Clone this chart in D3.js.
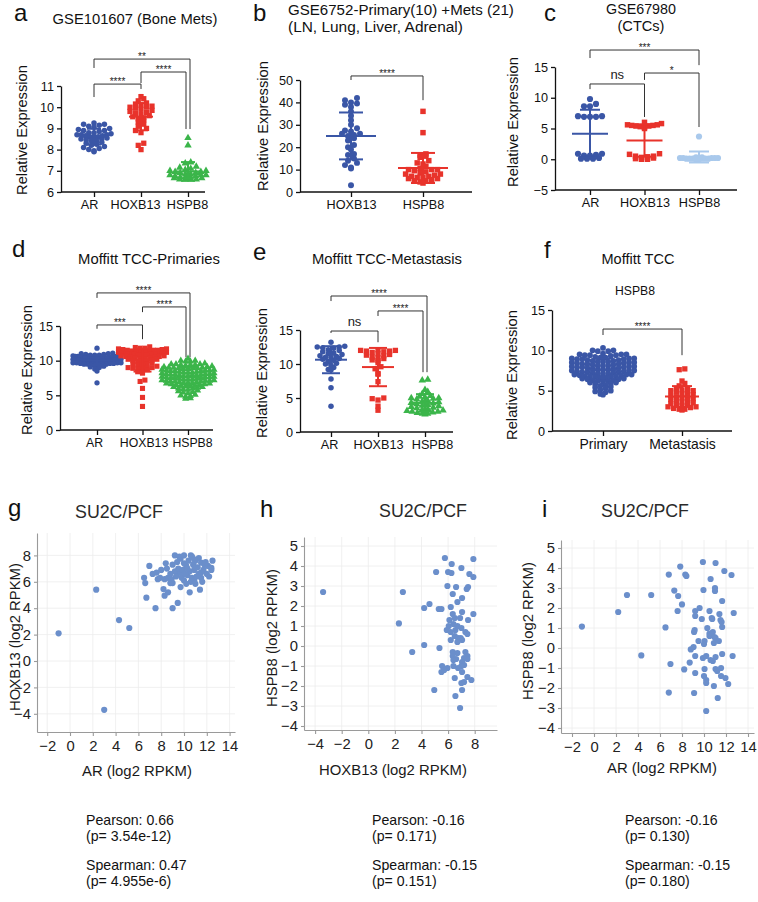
<!DOCTYPE html>
<html><head><meta charset="utf-8">
<script src="https://cdn.jsdelivr.net/npm/d3@7"></script>
<style>
body{margin:0;background:#fff}
svg{display:block}
text{font-family:"Liberation Sans",Arial,Helvetica,sans-serif}
</style>
</head><body>
<svg id="c" width="758" height="902"></svg>
<script>
// ---------------- DATA ----------------
const catsABC = ["AR", "HOXB13", "HSPB8"];
const catsB = ["HOXB13", "HSPB8"];
const catsF = ["Primary", "Metastasis"];

// a: GSE101607
const aAR = [9.25, 9.2, 9.2, 9.15, 9.1, 9.05, 9.0, 8.95, 8.9, 8.9, 8.85, 8.8, 8.8, 8.75, 8.7, 8.7, 8.7, 8.65, 8.65, 8.6, 8.6, 8.6, 8.55, 8.5, 8.5, 8.45, 8.4, 8.4, 8.35, 8.3, 8.25, 8.2, 8.15, 8.1, 8.05, 8.0, 7.95, 7.9];
const aHOXB13 = [10.5, 10.4, 10.3, 10.2, 10.15, 10.1, 10.05, 10.0, 10.0, 9.95, 9.9, 9.85, 9.8, 9.75, 9.7, 9.65, 9.6, 9.55, 9.5, 9.45, 9.4, 9.3, 9.2, 9.1, 9.0, 8.9, 8.8, 8.3, 8.2, 8.0];
const aHSPB8 = [8.55, 8.2, 7.4, 7.35, 7.2, 7.15, 7.1, 7.05, 7.0, 7.0, 6.95, 6.95, 6.9, 6.9, 6.85, 6.85, 6.8, 6.8, 6.8, 6.75, 6.75, 6.7, 6.7, 6.7, 6.65, 6.65, 6.6, 6.6, 6.6, 6.6];

// b: GSE6752
const bHOXB13 = [42, 41, 40, 39.5, 39, 38, 36, 34, 32, 30, 28.5, 27.5, 27, 26, 26, 25.5, 25, 24, 23, 21, 20, 19, 17, 16.5, 15, 14, 13, 12, 11, 10.5, 3];
const bHSPB8 = [36, 26.5, 17, 16.5, 16, 15.5, 14, 13, 12.5, 11.5, 10.5, 10, 10, 10, 9.5, 9, 8.5, 8, 8, 7.5, 7, 7, 6.5, 6.5, 6, 6, 5.5, 5, 5, 4.5, 4];

// c: GSE67980 (CTCs)
const cAR = [9.8, 9.0, 8.6, 8.6, 7.0, 7.0, 6.9, 6.9, 6.9, 0.9, 0.9, 0.7, 0.6, 0.6, 0.2, 0.1, 0.1, 0.1];
const cHOXB13 = [6.0, 5.8, 5.6, 5.6, 5.5, 5.5, 5.4, 5.4, 5.3, 5.2, 5.0, 0.9, 0.8, 0.5, 0.5, 0.4, 0.3, 0.2, 0.1, 0.0, 0.0];
const cHSPB8 = [3.7, 0.3, 0.3, 0.2, 0.2, 0.2, 0.2, 0.2, 0.1, 0.1, 0.1, 0.1, 0.1, 0.1, 0.0, 0.0];

// d: Moffitt TCC primaries
const dAR = [11.8, 11.1, 11.0, 11.0, 10.9, 10.9, 10.8, 10.8, 10.8, 10.7, 10.7, 10.7, 10.6, 10.6, 10.6, 10.6, 10.5, 10.5, 10.5, 10.5, 10.4, 10.4, 10.4, 10.4, 10.4, 10.3, 10.3, 10.3, 10.3, 10.3, 10.2, 10.2, 10.2, 10.2, 10.2, 10.2, 10.1, 10.1, 10.1, 10.1, 10.1, 10.0, 10.0, 10.0, 10.0, 10.0, 10.0, 9.9, 9.9, 9.9, 9.9, 9.9, 9.8, 9.8, 9.8, 9.8, 9.7, 9.7, 9.7, 9.7, 9.6, 9.6, 9.6, 9.5, 9.5, 9.5, 9.4, 9.4, 9.3, 9.3, 9.2, 9.1, 9.0, 8.8, 8.5, 6.8];
const dHOXB13 = [12.0, 11.9, 11.8, 11.8, 11.7, 11.7, 11.6, 11.6, 11.5, 11.5, 11.5, 11.4, 11.4, 11.3, 11.3, 11.3, 11.2, 11.2, 11.1, 11.1, 11.1, 11.0, 11.0, 11.0, 10.9, 10.9, 10.8, 10.8, 10.8, 10.7, 10.7, 10.6, 10.6, 10.5, 10.5, 10.4, 10.4, 10.3, 10.3, 10.2, 10.2, 10.1, 10.0, 10.0, 9.9, 9.8, 9.7, 9.6, 9.5, 9.4, 9.3, 9.2, 9.0, 9.0, 8.9, 8.9, 8.8, 8.8, 8.7, 8.4, 8.3, 8.2, 7.2, 7.0, 6.0, 4.7, 3.4];
const dHSPB8 = [10.3, 10.0, 10.0, 9.9, 9.9, 9.6, 9.5, 9.5, 9.5, 9.4, 9.4, 9.4, 9.3, 9.2, 9.1, 9.1, 9.0, 9.0, 9.0, 8.9, 8.9, 8.9, 8.8, 8.8, 8.7, 8.7, 8.6, 8.6, 8.6, 8.5, 8.5, 8.5, 8.4, 8.4, 8.3, 8.3, 8.3, 8.2, 8.2, 8.1, 8.1, 8.1, 8.0, 8.0, 8.0, 7.9, 7.9, 7.9, 7.8, 7.8, 7.7, 7.7, 7.6, 7.6, 7.6, 7.5, 7.5, 7.5, 7.4, 7.4, 7.3, 7.3, 7.3, 7.2, 7.2, 7.1, 7.1, 7.1, 7.0, 7.0, 7.0, 6.9, 6.9, 6.8, 6.8, 6.8, 6.7, 6.7, 6.6, 6.6, 6.5, 6.5, 6.4, 6.4, 6.3, 6.3, 6.2, 6.2, 6.1, 6.0, 6.0, 5.9, 5.8, 5.7, 5.6, 5.5, 5.4, 5.3, 5.1, 5.0, 4.9, 4.8, 4.6, 4.5];

// e: Moffitt TCC metastasis
const eAR = [13.2, 12.6, 12.5, 12.5, 12.4, 12.3, 12.1, 12.0, 11.8, 11.6, 11.5, 11.4, 11.2, 11.1, 11.0, 11.0, 10.8, 10.7, 10.5, 10.3, 10.1, 10.0, 9.8, 9.5, 9.2, 9.1, 7.8, 6.5, 3.8];
const eHOXB13 = [12.1, 12.0, 12.0, 11.9, 11.9, 11.8, 11.7, 11.5, 11.4, 11.3, 11.2, 11.0, 10.9, 10.8, 10.6, 10.5, 10.2, 9.6, 9.3, 8.6, 8.5, 7.4, 5.0, 4.9, 4.7, 3.8, 3.2];
const eHSPB8 = [7.7, 7.6, 6.2, 5.9, 5.6, 5.3, 5.2, 5.1, 5.0, 5.0, 4.9, 4.8, 4.6, 4.5, 4.4, 4.3, 4.2, 4.1, 4.0, 3.9, 3.8, 3.7, 3.6, 3.5, 3.4, 3.3, 3.2, 3.1, 3.0, 3.0, 2.9, 2.8, 2.7, 2.7, 2.6];

// f: Moffitt TCC HSPB8 (primary vs metastasis)
const fPrimary = dHSPB8;
const fMetastasis = eHSPB8;

// tick labels
const ticksA = [6, 7, 8, 9, 10, 11];
const ticksB = [0, 10, 20, 30, 40, 50];
const ticksC = [-5, 0, 5, 10, 15];
const ticksDEF = [0, 5, 10, 15];
const ticksGx = [-2, 0, 2, 4, 6, 8, 10, 12, 14];
const ticksGy = [-4, -2, 0, 2, 4, 6, 8];
const ticksHx = [-4, -2, 0, 2, 4, 6, 8];
const ticksHIy = [-4, -3, -2, -1, 0, 1, 2, 3, 4, 5];
const ticksIx = [-2, 0, 2, 4, 6, 8, 10, 12, 14];

// g: AR vs HOXB13 (SU2C/PCF)
const scatterG = [[-1.0,2.1],[2.3,5.4],[3.0,-3.7],[4.3,3.1],[5.2,2.5],
[6.7,4.8],[7.5,4.0],[9.0,4.0],[9.45,4.4],[8.3,4.95],[8.6,5.2],[8.2,5.45],[9.7,5.6],[10.5,5.2],[11.4,5.4],
[6.5,6.3],[6.6,5.9],[7.25,6.6],[7.7,6.2],[7.9,6.3],[8.3,6.2],[8.6,6.3],[8.9,6.2],[9.0,5.9],[8.8,5.9],[9.45,6.65],[9.8,6.3],[10.0,6.1],[10.3,6.5],[10.7,6.3],[10.9,6.1],[11.1,6.4],[11.5,6.3],[11.6,6.0],[10.6,6.0],[11.0,5.85],[10.2,5.85],[9.2,6.8],[9.7,6.7],[11.5,6.7],[12.4,6.9],
[9.2,8.0],[10.6,8.0],[9.7,7.75],[9.0,7.3],[6.96,7.2],[11.0,7.6],[11.5,7.45],[12.5,7.6],[12.1,7.2],[10.2,7.2],[11.2,7.1],[12.4,7.05],
[8.0,6.9],[8.5,7.0],[9.5,7.0],[10.0,7.4],[10.4,7.6],[10.8,7.3],[11.3,7.8],[11.8,7.3],[12.0,6.6],[10.5,6.8],[9.9,6.9],[10.9,6.9],[11.7,6.9],[8.8,6.6],[9.3,6.4],[10.1,6.6],[11.3,6.6],[12.2,6.4],[10.3,7.0],[10.7,7.9],[9.6,7.9],[10.0,8.0],[11.0,7.1],[8.4,7.4],[7.6,6.7],[9.4,7.5],[10.9,7.7],[11.9,7.5]];

// h: HOXB13 vs HSPB8
const scatterH = [[-3.4,2.7],[2.6,2.7],[2.3,1.13],[3.3,-0.3],[4.2,0.05],[4.2,1.9],[4.6,2.1],[5.3,1.85],[5.5,1.85],[5.35,-0.1],[4.96,-2.2],[5.55,-1.0],[5.5,-1.3],[5.95,-1.1],[5.95,3.0],[6.0,3.7],[5.1,3.7],[6.25,3.65],[6.6,2.95],[7.4,2.85],[7.5,2.95],[7.9,3.45],[7.6,3.6],[6.35,2.6],[6.7,2.2],[6.2,1.95],[7.05,2.4],[6.35,1.6],[6.5,1.4],[6.1,1.3],[6.9,1.4],[7.05,1.7],[7.9,1.6],[7.5,1.3],[6.05,1.0],[6.4,1.1],[6.7,1.0],[7.0,0.9],[5.9,0.8],[6.2,0.7],[6.55,0.8],[7.3,0.7],[7.45,0.6],[6.5,0.5],[6.75,0.4],[6.95,0.4],[7.05,0.3],[6.2,0.3],[6.7,0.2],[6.35,-0.3],[6.7,-0.35],[7.3,-0.3],[7.45,-0.5],[7.2,-0.6],[6.35,-0.5],[6.6,-0.65],[7.45,-0.65],[7.05,-0.8],[6.4,-0.7],[7.2,-0.95],[7.0,-1.0],[6.75,-1.1],[6.4,-1.0],[7.05,-1.3],[6.5,-1.6],[7.45,-1.55],[7.0,-1.85],[7.2,-1.8],[7.75,-1.7],[7.05,-2.2],[6.55,-2.5],[6.9,-3.1],[5.7,-1.2],[5.76,4.4],[6.27,4.1],[7.0,3.9],[7.9,4.35]];

// i: AR vs HSPB8
const scatterI = [[-1.1,1.07],[2.2,1.8],[3.0,2.65],[4.3,-0.37],[5.2,2.65],[6.5,1.03],[6.8,3.67],[6.95,-0.8],[6.8,-2.23],[7.3,2.87],[7.65,2.6],[8.0,2.18],[7.6,1.85],[8.3,3.67],[8.4,3.6],[8.2,-1.07],[8.8,-0.07],[8.7,-0.73],[9.05,0.05],[9.2,-0.4],[9.1,0.8],[9.15,0.9],[9.2,1.85],[9.6,2.0],[9.2,1.6],[9.1,-2.25],[9.2,-1.25],[9.5,0.35],[9.8,1.45],[9.95,2.9],[9.9,-0.5],[10.0,0.2],[10.05,0.35],[10.05,-1.05],[10.0,-1.4],[10.2,-1.6],[10.2,-1.75],[10.2,-0.4],[10.3,1.0],[10.2,-3.15],[10.6,3.45],[10.5,1.85],[10.5,0.6],[10.5,0.72],[10.6,-0.6],[10.7,1.5],[10.75,1.45],[10.8,-0.65],[10.8,0.8],[10.9,0.25],[10.9,-1.9],[11.0,3.0],[11.0,2.85],[11.05,-0.45],[11.05,-1.05],[10.95,0.55],[11.05,0.5],[11.2,-1.15],[11.25,-2.5],[11.35,0.35],[11.4,1.7],[11.5,1.4],[11.55,-1.4],[11.6,1.3],[11.65,1.05],[11.65,2.35],[11.65,-0.3],[11.55,-1.0],[11.85,3.85],[11.95,-1.5],[12.2,-1.8],[12.5,3.65],[12.6,-0.4],[12.7,1.75],[7.84,4.07],[9.9,4.3],[11.05,4.25]];

const statsG = ["Pearson: 0.66", "(p= 3.54e-12)", "Spearman: 0.47", "(p= 4.955e-6)"];
const statsH = ["Pearson: -0.16", "(p= 0.171)", "Spearman: -0.15", "(p= 0.151)"];
const statsI = ["Pearson: -0.16", "(p= 0.130)", "Spearman: -0.15", "(p= 0.180)"];

// ---------------- DRAWING ----------------
const BLUE = "#3a56a6", RED = "#e8332b", GREEN = "#3bb54a", LBLUE = "#a9c9ec", SC = "#6b8fcb";
const svg = d3.select("#c");

function text(x, y, s, size, opt = {}) {
  const t = svg.append("text").attr("x", x).attr("y", y).text(s)
    .attr("font-size", size).attr("fill", opt.fill || "#111")
    .attr("text-anchor", opt.anchor || "middle");
  if (opt.rotate) t.attr("transform", `rotate(-90,${x},${y})`);
  if (opt.w) fit(t, opt.w);
  return t;
}
// scale a text's font so its rendered width matches the width measured on the reference
function fit(t, w) {
  const m = t.node().getComputedTextLength();
  if (m > 0) t.attr("font-size", (+t.attr("font-size")) * w / m);
  return t;
}
function sizeFor(s, base, w) {
  const t = svg.append("text").attr("font-size", base).text(s);
  const m = t.node().getComputedTextLength();
  t.remove();
  return m > 0 ? base * w / m : base;
}
const TICK = sizeFor("HOXB13", 14, 50);
const STAT = sizeFor("Pearson: 0.66", 13, 88);
const SCT = sizeFor("12", 14, 16.5);

function swarm(vals, y, cx, p) {
  const pts = vals.map(v => ({ v, py: y(v) }));
  const bins = d3.group(pts, d => Math.round(d.py / p.bin));
  for (const arr of bins.values()) {
    const n = arr.length;
    const s = n > 1 ? Math.min(p.sp, 2 * p.maxHalf / (n - 1)) : 0;
    const offs = d3.range(n).map(k => (k - (n - 1) / 2) * s)
      .sort((a, b) => Math.abs(a) - Math.abs(b) || a - b);
    arr.sort((a, b) => a.v - b.v);
    arr.forEach((d, k) => d.px = cx + offs[k]);
  }
  return pts;
}

const shapes = { circle: d3.symbolCircle, square: d3.symbolSquare, triangle: d3.symbolTriangle };

function dotPanel(c) {
  const y = d3.scaleLinear().domain(c.domain).range([c.yBot, c.yTop]);
  const x = d3.scalePoint().domain(c.cats).range(c.xr);
  const g = svg.append("g");
  const ya = g.append("g").attr("transform", `translate(${c.ax},0)`)
    .call(d3.axisLeft(y).tickValues(c.ticks).tickSize(4).tickSizeOuter(0).tickPadding(3).tickFormat(d3.format("d")));
  ya.selectAll("text").attr("font-size", TICK).attr("fill", "#111").attr("font-family", null);
  ya.selectAll("line,path").attr("stroke", "#111").attr("stroke-width", 1.3);
  const xa = g.append("g").attr("transform", `translate(0,${c.yBot})`)
    .call(d3.axisBottom(x).tickSize(5).tickPadding(3));
  xa.select(".domain").remove();
  xa.selectAll("text").attr("font-size", TICK * (c.xFontK || 1)).attr("fill", "#111").attr("font-family", null);
  if (c.xdx) xa.selectAll("text").attr("dx", (d, i) => c.xdx[i]);
  xa.selectAll("line").attr("stroke", "#111").attr("stroke-width", 1.3);
  g.append("line").attr("x1", c.ax).attr("x2", c.axR).attr("y1", c.yBot).attr("y2", c.yBot)
    .attr("stroke", "#111").attr("stroke-width", 1.3);
  c.series.forEach((vals, i) => {
    const cx = x(c.cats[i]);
    const pts = swarm(vals, y, cx, c.sw[i]);
    const sym = d3.symbol().type(shapes[c.shapes[i]]).size(c.sizes[i]);
    g.append("g").selectAll("path").data(pts).join("path")
      .attr("d", sym).attr("transform", d => `translate(${d.px},${d.py})`)
      .attr("fill", c.colors[i]);
    const m = d3.mean(vals), sd = d3.deviation(vals);
    const eb = g.append("g").attr("stroke", c.colors[i]).attr("stroke-width", 2).attr("fill", "none");
    eb.append("line").attr("x1", cx - c.meanHalf).attr("x2", cx + c.meanHalf).attr("y1", y(m)).attr("y2", y(m));
    eb.append("line").attr("x1", cx).attr("x2", cx).attr("y1", y(m - sd)).attr("y2", y(m + sd));
    [m - sd, m + sd].forEach(v => eb.append("line").attr("x1", cx - c.capHalf).attr("x2", cx + c.capHalf).attr("y1", y(v)).attr("y2", y(v)));
  });
  c.brackets.forEach(b => {
    const xa_ = x(c.cats[b.a]) + (b.dxa || 0), xb_ = x(c.cats[b.b]) + (b.dxb || 0);
    g.append("path").attr("d", `M${xa_},${y(b.la)}V${y(b.y)}H${xb_}V${y(b.lb)}`)
      .attr("fill", "none").attr("stroke", "#333").attr("stroke-width", 1);
    const ns = b.label === "ns";
    text((xa_ + xb_) / 2, y(b.y) + (ns ? -5 : 1), b.label, ns ? 13 : 10, { fill: "#222" });
  });
  text(c.ylab[0], c.ylab[1], "Relative Expression", 14, { rotate: true, w: 130 }).attr("dy", "0.35em");
}

function scatterPanel(c) {
  const x = d3.scaleLinear().domain(c.xd).range([c.x0, c.x1]);
  const y = d3.scaleLinear().domain(c.yd).range([c.y1, c.y0]);
  const g = svg.append("g");
  const grid = g.append("g").attr("stroke", "#ececec").attr("stroke-width", 0.8);
  c.xt.forEach(t => grid.append("line").attr("x1", x(t)).attr("x2", x(t)).attr("y1", c.y0).attr("y2", c.y1));
  c.yt.forEach(t => grid.append("line").attr("x1", c.x0).attr("x2", c.x1).attr("y1", y(t)).attr("y2", y(t)));
  const xa = g.append("g").attr("transform", `translate(0,${c.y1})`)
    .call(d3.axisBottom(x).tickValues(c.xt).tickSize(4).tickSizeOuter(0).tickPadding(4).tickFormat(d3.format("d")));
  const ya = g.append("g").attr("transform", `translate(${c.x0},0)`)
    .call(d3.axisLeft(y).tickValues(c.yt).tickSize(3).tickSizeOuter(0).tickPadding(3).tickFormat(d3.format("d")));
  [xa, ya].forEach(a => {
    a.selectAll("text").attr("font-size", SCT).attr("fill", "#222").attr("font-family", null);
    a.selectAll("line,path").attr("stroke", "#9a9a9a").attr("stroke-width", 1.1);
  });
  g.append("g").selectAll("circle").data(c.pts).join("circle")
    .attr("cx", d => x(d[0])).attr("cy", d => y(d[1])).attr("r", 3.1).attr("fill", SC);
  text(c.title[0], c.title[1], "SU2C/PCF", 17, { fill: "#2a2a2a", w: 88 });
  text(c.xl[0], c.xl[1], c.xlab, 15, { fill: "#1a1a1a", w: c.xw });
  text(c.yl[0], c.yl[1], c.ylabT, 15, { rotate: true, fill: "#1a1a1a", w: c.yw }).attr("dy", "0.35em");
  c.stats.forEach((s, i) => text(c.st[0], c.st[1][i], s, STAT, { anchor: "start", fill: "#111" }));
}

// panel letters
[["a", 14, 21], ["b", 253, 21], ["c", 544, 21], ["d", 12, 257], ["e", 253, 260], ["f", 544, 258],
 ["g", 8, 516], ["h", 260, 517], ["i", 542, 517]].forEach(l => text(l[1], l[2], l[0], 24, { anchor: "start" }));

// titles
text(135, 24, "GSE101607 (Bone Mets)", 14, { w: 165 });
text(288, 15, "GSE6752-Primary(10) +Mets (21)", 14, { anchor: "start", w: 226 });
text(288, 32, "(LN, Lung, Liver, Adrenal)", 14, { anchor: "start", w: 175 });
text(641, 14, "GSE67980", 14, { w: 70 });
text(641, 31, "(CTCs)", 14, { w: 47 });
text(149, 264, "Moffitt TCC-Primaries", 14, { w: 142 });
text(387, 264, "Moffitt TCC-Metastasis", 14, { w: 150 });
text(638, 264, "Moffitt TCC", 14, { w: 73 });
text(635, 295, "HSPB8", 12, { w: 40 });

const tri = ["circle", "square", "triangle"];
dotPanel({
  cats: catsABC, series: [aAR, aHOXB13, aHSPB8], colors: [BLUE, RED, GREEN], shapes: tri, sizes: [24, 28, 24],
  ax: 61, axR: 205, xr: [94, 188], yTop: 86, yBot: 192, domain: [6, 11], ticks: ticksA, xdx: [-5, -6, -1],
  sw: [{ bin: 4.5, sp: 5.2, maxHalf: 17 }, { bin: 4.5, sp: 5.5, maxHalf: 18 }, { bin: 4, sp: 5.5, maxHalf: 18 }],
  meanHalf: 12, capHalf: 7,
  brackets: [{ a: 0, b: 1, label: "****", y: 11.09, la: 10.48, lb: 10.86 },
             { a: 1, b: 2, label: "****", y: 11.66, la: 11.14, lb: 8.97, dxb: -2 },
             { a: 0, b: 2, label: "**", y: 12.27, la: 11.85, lb: 8.97, dxb: 2 }],
  ylab: [22, 130]
});
dotPanel({
  cats: catsB, series: [bHOXB13, bHSPB8], colors: [BLUE, RED], shapes: ["circle", "square"], sizes: [28, 30],
  ax: 300, axR: 472, xr: [351, 423], yTop: 80, yBot: 192, domain: [0, 50], ticks: ticksB,
  sw: [{ bin: 5, sp: 6, maxHalf: 18 }, { bin: 4.5, sp: 5.8, maxHalf: 24 }],
  meanHalf: 25, capHalf: 12,
  brackets: [{ a: 0, b: 1, label: "****", y: 51.8, la: 50, lb: 41 }],
  ylab: [263, 126]
});
dotPanel({
  cats: catsABC, series: [cAR, cHOXB13, cHSPB8], colors: [BLUE, RED, LBLUE], shapes: ["circle", "square", "circle"], sizes: [30, 30, 30],
  ax: 555, axR: 737, xr: [590, 699], yTop: 67, yBot: 190, domain: [-5, 15], ticks: ticksC,
  sw: [{ bin: 5, sp: 6, maxHalf: 18 }, { bin: 5, sp: 6, maxHalf: 17 }, { bin: 5, sp: 6, maxHalf: 19 }],
  meanHalf: 18, capHalf: 10,
  brackets: [{ a: 0, b: 1, label: "ns", y: 12.24, la: 11.4, lb: 6.87 },
             { a: 1, b: 2, label: "*", y: 14.02, la: 12.9, lb: 5.24 },
             { a: 0, b: 2, label: "***", y: 17.76, la: 16.46, lb: 15.3 }],
  ylab: [513, 122]
});
dotPanel({
  cats: catsABC, series: [dAR, dHOXB13, dHSPB8], colors: [BLUE, RED, GREEN], shapes: tri, sizes: [22, 26, 22],
  ax: 60, axR: 213, xr: [97, 188], yTop: 326, yBot: 430, domain: [0, 15], ticks: ticksDEF,
  xFontK: 0.97, xdx: [-3, 1, 4],
  sw: [{ bin: 3.5, sp: 4.5, maxHalf: 24 }, { bin: 3.5, sp: 4.8, maxHalf: 24 }, { bin: 3.5, sp: 4.8, maxHalf: 26 }],
  meanHalf: 16, capHalf: 9,
  brackets: [{ a: 0, b: 2, label: "****", y: 19.77, la: 19.05, lb: 10.5, dxb: 2 },
             { a: 1, b: 2, label: "****", y: 17.75, la: 17.0, lb: 10.5, dxb: -2 },
             { a: 0, b: 1, label: "***", y: 15.15, la: 14.6, lb: 13.1 }],
  ylab: [27, 370]
});
dotPanel({
  cats: catsABC, series: [eAR, eHOXB13, eHSPB8], colors: [BLUE, RED, GREEN], shapes: tri, sizes: [24, 28, 24],
  ax: 300, axR: 453, xr: [331, 425], yTop: 330, yBot: 432, domain: [0, 15], ticks: ticksDEF, xdx: [-2, 0, 7],
  sw: [{ bin: 4, sp: 5.5, maxHalf: 18 }, { bin: 4, sp: 5.8, maxHalf: 18 }, { bin: 4, sp: 5.5, maxHalf: 18 }],
  meanHalf: 16, capHalf: 9,
  brackets: [{ a: 0, b: 2, label: "****", y: 20.0, la: 19.26, lb: 8.8, dxb: 2 },
             { a: 1, b: 2, label: "****", y: 17.8, la: 17.06, lb: 8.8, dxb: -2 },
             { a: 0, b: 1, label: "ns", y: 14.85, la: 14.56, lb: 13.2 }],
  ylab: [262, 373]
});
dotPanel({
  cats: catsF, series: [fPrimary, fMetastasis], colors: [BLUE, RED], shapes: ["circle", "square"], sizes: [26, 28],
  ax: 552, axR: 732, xr: [603, 682], yTop: 310, yBot: 431, domain: [0, 15], ticks: ticksDEF, xFontK: 1.1,
  sw: [{ bin: 4, sp: 5.2, maxHalf: 36 }, { bin: 4, sp: 5.6, maxHalf: 20 }],
  meanHalf: 17, capHalf: 10,
  brackets: [{ a: 0, b: 1, label: "****", y: 12.64, la: 11.9, lb: 9.4 }],
  ylab: [512, 375]
});

scatterPanel({
  pts: scatterG, x0: 37, x1: 235, y0: 533, y1: 732,
  xd: [(37 - 70) / 11.4, (235 - 70) / 11.4], yd: [(661 - 732) / 13.2, (661 - 533) / 13.2],
  xt: ticksGx, yt: ticksGy, title: [119, 518], xl: [137, 776], xlab: "AR (log2 RPKM)", xw: 110,
  yl: [15, 637], ylabT: "HOXB13 (log2 RPKM)", yw: 148, stats: statsG, st: [86, [825, 841, 870, 886]]
});
scatterPanel({
  pts: scatterH, x0: 304, x1: 497, y0: 537, y1: 730,
  xd: [(304 - 368.3) / 13.3, (497 - 368.3) / 13.3], yd: [(646 - 730) / 20, (646 - 537) / 20],
  xt: ticksHx, yt: ticksHIy, title: [423, 517], xl: [393, 775], xlab: "HOXB13 (log2 RPKM)", xw: 148,
  yl: [272, 638], ylabT: "HSPB8 (log2 RPKM)", yw: 138, stats: statsH, st: [372, [825, 841, 870, 886]]
});
scatterPanel({
  pts: scatterI, x0: 561, x1: 754, y0: 540, y1: 733,
  xd: [(561 - 594) / 11, (754 - 594) / 11], yd: [(648 - 733) / 20, (648 - 540) / 20],
  xt: ticksIx, yt: ticksHIy, title: [645, 517], xl: [662, 773], xlab: "AR (log2 RPKM)", xw: 110,
  yl: [528, 631], ylabT: "HSPB8 (log2 RPKM)", yw: 138, stats: statsI, st: [625, [825, 841, 870, 886]]
});
</script>
</body></html>
